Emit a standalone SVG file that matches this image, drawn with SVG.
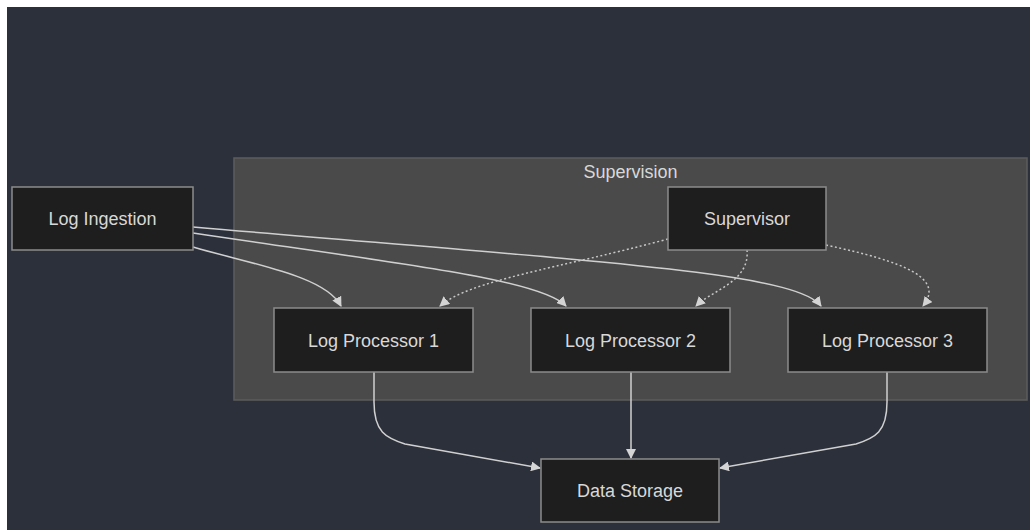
<svg xmlns="http://www.w3.org/2000/svg" width="1030" height="530" viewBox="0 0 1030 530">
  <defs>
    <marker id="arrow" viewBox="0 0 10 10" refX="9" refY="5" markerWidth="10" markerHeight="10" markerUnits="userSpaceOnUse" orient="auto">
      <path d="M0,0 L10,5 L0,10 z" fill="#d4d4d4"/>
    </marker>
    <style>
      .node rect { fill: #1e1e1e; stroke: #8c8c8c; stroke-width: 1.5; }
      .node text, .cluster text { font-family: "Liberation Sans", Arial, sans-serif; font-size: 18px; fill: #d8d8d8; text-anchor: middle; }
      .edge { fill: none; stroke: #d0d0d0; stroke-width: 1.5; marker-end: url(#arrow); }
      .dotted { stroke-dasharray: 2 2.5; stroke: #c8c8c8; }
    </style>
  </defs>
  <rect x="0" y="0" width="1030" height="530" fill="#ffffff"/>
  <rect x="7" y="7" width="1023" height="523" fill="#2c303b"/>

  <g id="cluster-supervision" class="cluster">
    <rect x="234" y="158" width="793" height="242" fill="#4a4a4a" stroke="#5c5c5c" stroke-width="1.5"/>
    <text x="630.5" y="178">Supervision</text>
  </g>

  <g id="edges">
    <path class="edge" d="M193,247 C255,265 325,276 341,306"/>
    <path class="edge" d="M193,233 C400,264 540,279 566,306"/>
    <path class="edge" d="M193,227 C600,262 795,272 821,306"/>
    <path class="edge dotted" d="M668,239 C560,268 470,280 440,306"/>
    <path class="edge dotted" d="M747,250 C750,282 712,290 696,306"/>
    <path class="edge dotted" d="M826,245 C905,262 945,278 923,306"/>
    <path class="edge" d="M374,372 L374,402 C374,432 386,438 405,444 L540,468"/>
    <path class="edge" d="M631,372 L631,458"/>
    <path class="edge" d="M887,372 L887,402 C887,432 875,438 856,444 L720,468"/>
  </g>

  <g id="node-log-ingestion" class="node">
    <rect x="12" y="187" width="181" height="63"/>
    <text x="102.5" y="225">Log Ingestion</text>
  </g>
  <g id="node-supervisor" class="node">
    <rect x="668" y="187" width="158" height="63"/>
    <text x="747" y="225">Supervisor</text>
  </g>
  <g id="node-log-processor-1" class="node">
    <rect x="274" y="308" width="199" height="64"/>
    <text x="373.5" y="346.5">Log Processor 1</text>
  </g>
  <g id="node-log-processor-2" class="node">
    <rect x="531" y="308" width="199" height="64"/>
    <text x="630.5" y="346.5">Log Processor 2</text>
  </g>
  <g id="node-log-processor-3" class="node">
    <rect x="788" y="308" width="199" height="64"/>
    <text x="887.5" y="346.5">Log Processor 3</text>
  </g>
  <g id="node-data-storage" class="node">
    <rect x="541" y="459" width="178" height="63"/>
    <text x="630" y="497">Data Storage</text>
  </g>
</svg>
